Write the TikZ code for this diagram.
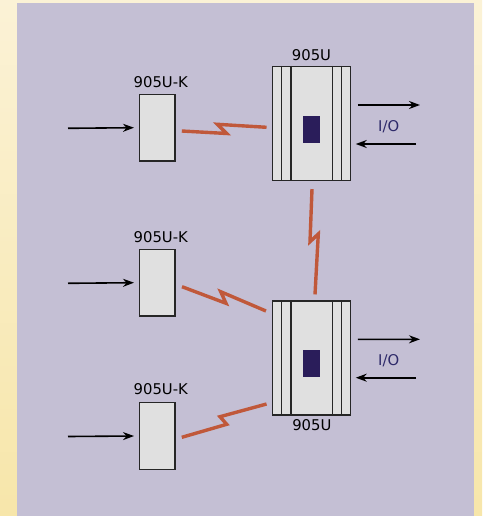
\documentclass[tikz,border=0pt]{standalone}
\usepackage{fontspec}
\setmainfont{DejaVu Sans}
\usetikzlibrary{calc,arrows.meta}
\definecolor{panel}{HTML}{C4BFD4}
\definecolor{boxfill}{HTML}{E0E0E0}
\definecolor{zig}{HTML}{C0583A}
\definecolor{led}{HTML}{2A1D5A}
\definecolor{iotext}{HTML}{2E2A6A}
\definecolor{bgtop}{HTML}{FBF2D6}
\definecolor{bgbot}{HTML}{F7E6AA}
\tikzset{
  kbox/.style={draw=black!85, line width=1.5pt, fill=boxfill, minimum width=35.5pt, minimum height=66.7pt, inner sep=0pt},
  ubox/.style={draw=black!85, line width=1.5pt, fill=boxfill, minimum width=78.4pt, minimum height=114pt, inner sep=0pt},
  ledbox/.style={fill=led, minimum width=17pt, minimum height=26.7pt, inner sep=0pt},
  lbl/.style={font=\fontsize{14.8}{17}\selectfont, anchor=base, inner sep=0pt},
  iolbl/.style={lbl, text=iotext},
  sig/.style={line width=1.6pt, -{Stealth[length=11pt,width=8pt]}},
  radio/.style={draw=zig, line width=3.4pt, line join=miter},
  strip/.style={line width=1.4pt, draw=black!85}
}
\begin{document}
\begin{tikzpicture}[x=1pt,y=-1pt]
\useasboundingbox (0,0) rectangle (482,516);
\shade[top color=bgtop, bottom color=bgbot] (0,0) rectangle (482,516);
\fill[panel] (17,3) rectangle (474,516);

% small units
\node[kbox] (ka) at (157,127.7) {};
\node[kbox] (kb) at (157,282.7) {};
\node[kbox] (kc) at (157,436) {};
\node[lbl] (kal) at (160.8,87.3) {905U-K};
\node[lbl] (kbl) at (160.8,242.3) {905U-K};
\node[lbl] (kcl) at (160.8,394) {905U-K};

% main units
\node[ubox] (ua) at (311.5,123.7) {};
\node[ubox] (ub) at (311.5,357.9) {};
\foreach \u in {ua,ub}{
  \foreach \dx in {10,19.4}{
    \draw[strip] ($(\u.north west)+(\dx,0)$) -- ($(\u.south west)+(\dx,0)$);
  }
  \foreach \dx in {9.7,19}{
    \draw[strip] ($(\u.north east)+(-\dx,0)$) -- ($(\u.south east)+(-\dx,0)$);
  }
}
\node[ledbox] (la) at (311.5,129.3) {};
\node[ledbox] (lb) at (311.5,363.3) {};
\node[lbl] (ual) at (311.5,60.7) {905U};
\node[lbl] (ubl) at (311.8,430.7) {905U};

% input arrows
\coordinate (ia) at (68,128.3);
\coordinate (ib) at (68,283.3);
\coordinate (ic) at (68,436.5);
\draw[sig] (ia) -- (ka.west -| 134,0);
\draw[sig] (ib) -- (kb.west -| 134,0);
\draw[sig] (ic) -- (kc.west -| 134,0);

% I/O arrows
\coordinate (oa1) at (420,105);
\coordinate (oa2) at (416,144);
\coordinate (ob1) at (420,339.3);
\coordinate (ob2) at (416,377.7);
\draw[sig] ($(ua.east)+(6.3,-18.7)$) -- (oa1);
\draw[sig] (oa2) -- ($(ua.east)+(4.3,20.3)$);
\draw[sig] ($(ub.east)+(6.3,-18.6)$) -- (ob1);
\draw[sig] (ob2) -- ($(ub.east)+(4.3,19.8)$);
\node[iolbl] (ioa) at (388.7,131.7) {I/O};
\node[iolbl] (iob) at (388.7,365.7) {I/O};

% radio links
\draw[radio] ($(ka.east)+(6.3,3.3)$) -- (226.7,133.5) -- (217.3,124.3) -- ($(ua.west)+(-5,3.6)$);
\draw[radio] ($(kb.east)+(6.5,4)$) -- (226,303.3) -- (220.7,291.7) -- ($(ub.west)+(-5.6,-46.9)$);
\draw[radio] ($(kc.east)+(6.3,1.3)$) -- (226.7,424.3) -- (220,416.7) -- ($(ub.west)+(-5,46.1)$);
\draw[radio] ($(ua.south)+(0.5,7.6)$) -- (310,241.7) -- (318.3,234) -- ($(ub.north)+(3.5,-5.7)$);
\end{tikzpicture}
\end{document}
